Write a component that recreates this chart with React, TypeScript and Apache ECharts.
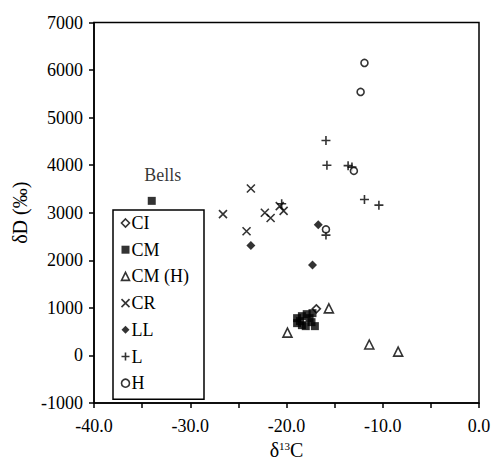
import React, { useEffect, useRef } from "react";
import * as echarts from "echarts";

const seriesNames = ["CI", "CM", "CM (H)", "CR", "LL", "L", "H"];

const ciData = [[-16.9, 980]];
const cmData = [
  [-18.9, 784], [-18.9, 679], [-18.4, 826], [-18.4, 637], [-17.9, 868],
  [-17.6, 784], [-17.4, 700], [-17.05, 616], [-18.0, 616], [-17.3, 889], [-18.6, 721],
];
const cmhData = [[-15.6, 990], [-19.9, 480], [-11.4, 230], [-8.4, 80]];
const crData = [
  [-23.7, 3510], [-26.6, 2970], [-22.25, 3000], [-21.65, 2890],
  [-20.7, 3140], [-20.3, 3040], [-24.15, 2610],
];
const llData = [[-23.7, 2310], [-16.7, 2750], [-17.3, 1900]];
const lData = [
  [-20.5, 3190], [-15.9, 2530], [-15.9, 4520], [-15.8, 4000],
  [-13.6, 3990], [-13.2, 3960], [-11.9, 3280], [-10.4, 3160],
];
const hData = [[-11.9, 6150], [-12.3, 5540], [-13.0, 3880], [-15.9, 2650]];
const bellsData = [[-34.0, 3250]];

const FONT = "Liberation Serif";
const CROSS = "path://M0,0L10,10M10,0L0,10";
const PLUS = "path://M5,0L5,10M0,5L10,5";

const symbolStyles: Record<string, any> = {
  CI: { symbol: "diamond", size: 8, itemStyle: { color: "#fff", borderColor: "#000", borderWidth: 1.6 } },
  CM: { symbol: "rect", size: 8, itemStyle: { color: "#000" } },
  "CM (H)": { symbol: "triangle", size: 9, itemStyle: { color: "#fff", borderColor: "#000", borderWidth: 1.6 } },
  CR: { symbol: CROSS, size: 8, itemStyle: { color: "none", borderColor: "#000", borderWidth: 1.6 } },
  LL: { symbol: "diamond", size: 9, itemStyle: { color: "#000" } },
  L: { symbol: PLUS, size: 9, itemStyle: { color: "none", borderColor: "#000", borderWidth: 1.6 } },
  H: { symbol: "circle", size: 7, itemStyle: { color: "#fff", borderColor: "#000", borderWidth: 1.6 } },
};

const dataByName: Record<string, number[][]> = {
  CI: ciData,
  CM: cmData,
  "CM (H)": cmhData,
  CR: crData,
  LL: llData,
  L: lData,
  H: hData,
};

export default function App() {
  const ref = useRef<HTMLDivElement>(null);
  useEffect(() => {
    if (!ref.current) return;
    const chart = echarts.init(ref.current, null, { renderer: "svg" });
    const series: any[] = seriesNames.map((name) => ({
      name,
      type: "scatter",
      data: dataByName[name],
      symbol: symbolStyles[name].symbol,
      symbolSize: symbolStyles[name].size,
      itemStyle: symbolStyles[name].itemStyle,
    }));
    series.push({
      name: "Bells",
      type: "scatter",
      data: bellsData,
      symbol: "rect",
      symbolSize: 8,
      itemStyle: { color: "#000" },
      label: {
        show: true,
        position: "top",
        formatter: "Bells",
        distance: 13,
        offset: [11, 0],
        color: "#000",
        fontFamily: FONT,
        fontSize: 18,
      },
    });
    chart.setOption({
      animation: false,
      backgroundColor: "#fff",
      grid: {
        left: 94,
        right: 12,
        top: 22.5,
        bottom: 61,
        show: true,
        borderColor: "#000",
        borderWidth: 1.5,
        containLabel: false,
        outerBoundsMode: "none",
      },
      legend: {
        orient: "vertical",
        left: 113,
        top: 210,
        data: seriesNames.map((n) => ({
          name: n,
          icon: symbolStyles[n].symbol,
          itemStyle: symbolStyles[n].itemStyle,
        })),
        itemWidth: 8,
        itemHeight: 8,
        itemGap: 8.7,
        padding: [4, 15, 7, 6],
        borderColor: "#000",
        borderWidth: 1.5,
        textStyle: { fontFamily: FONT, fontSize: 18, color: "#000", padding: [0, 0, 0, -3] },
      },
      xAxis: {
        type: "value",
        min: -40,
        max: 0,
        interval: 10,
        name: "{d|δ}{s|13}{d|C}",
        nameLocation: "middle",
        nameGap: 37,
        nameTextStyle: {
          rich: {
            d: { fontFamily: FONT, fontSize: 20, color: "#000" },
            s: { fontFamily: FONT, fontSize: 11, color: "#000", verticalAlign: "top", padding: [0, 0, 9, 0] },
          },
        },
        axisLine: { onZero: false, lineStyle: { color: "#000", width: 1.5 } },
        axisTick: { show: true, length: 5, inside: false, lineStyle: { color: "#000", width: 1.5 } },
        minorTick: { show: true, splitNumber: 2, length: 5, lineStyle: { color: "#000", width: 1.5 } },
        splitLine: { show: false },
        axisLabel: {
          formatter: (v: number) => v.toFixed(1),
          fontFamily: FONT,
          fontSize: 18,
          color: "#000",
          margin: 14,
        },
      },
      yAxis: {
        type: "value",
        min: -1000,
        max: 7000,
        interval: 1000,
        name: "δD (‰)",
        nameLocation: "middle",
        nameGap: 62,
        nameTextStyle: { fontFamily: FONT, fontSize: 20, color: "#000" },
        axisLine: { onZero: false, lineStyle: { color: "#000", width: 1.5 } },
        axisTick: { show: true, length: 5, inside: false, lineStyle: { color: "#000", width: 1.5 } },
        splitLine: { show: false },
        axisLabel: {
          formatter: (v: number) => String(v),
          fontFamily: FONT,
          fontSize: 18,
          color: "#000",
          margin: 11,
        },
      },
      series,
    });
    return () => chart.dispose();
  }, []);
  return (
    <div
      ref={ref}
      style={{ position: "fixed", left: 0, top: 0, width: 491, height: 464 }}
    />
  );
}
